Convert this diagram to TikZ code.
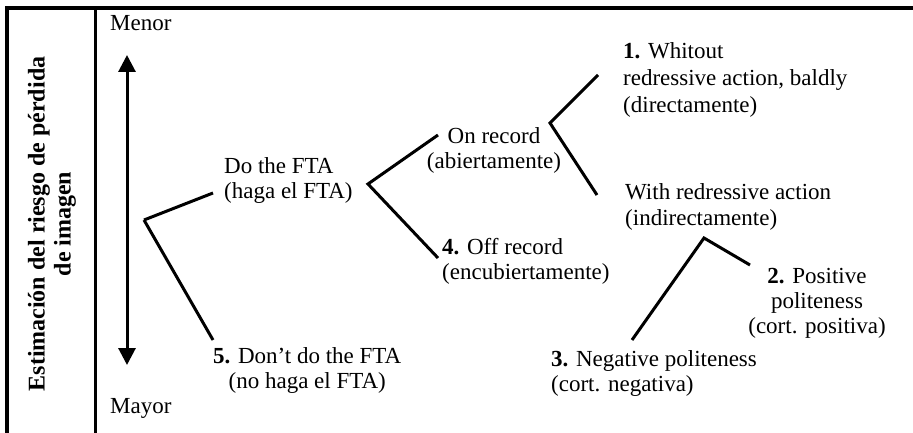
\documentclass[tikz,border=0pt]{standalone}
\usepackage{fontspec}
\setmainfont{Liberation Serif}
\usetikzlibrary{arrows.meta}

\begin{document}
\begin{tikzpicture}[x=1pt,y=-1pt,
    txt/.style={font=\fontsize{23}{25}\selectfont, inner sep=0pt},
    branch/.style={line width=3pt},
    frame/.style={line width=4.5pt}]
  % Define the drawing area
  \useasboundingbox (0,0) rectangle (913,433);

  % Frame and divider
  \draw[frame] (7,433) -- (7,8) -- (913,8);
  \draw[line width=3pt] (95,8) -- (95,433);

  % Side label
  \node[txt, font=\fontsize{24}{26}\selectfont\bfseries, rotate=90, align=center]
    (axis) at (52,224) {Estimación del riesgo de pérdida\\de imagen};

  % Scale
  \node[txt, anchor=base west] (menor) at (110,31) {Menor};
  \node[txt, anchor=base west] (mayor) at (110,413) {Mayor};
  \coordinate (top) at (127,55);
  \coordinate (bottom) at (127,365);
  \draw[branch, {Triangle[width=17pt,length=17pt]}-{Triangle[width=17pt,length=17pt]}]
    (top) -- (bottom);

  % Labels of the tree (base = last line)
  \node[txt, anchor=base west, align=left] (do) at (224,198) {Do the FTA\\(haga el FTA)};
  \node[txt, anchor=base west, align=center] (dont) at (213,388) {\textbf{5.} Don't do the FTA\\(no haga el FTA)};
  \node[txt, anchor=base, align=center] (onrec) at (494,168) {On record\\(abiertamente)};
  \node[txt, anchor=base west, align=left] (offrec) at (442,279) {\textbf{4.} Off record\\(encubiertamente)};
  \node[txt, anchor=base west, align=left] (bald) at (623,113) {\textbf{1.} Whitout\\[2pt]redressive action, baldly\\[2pt](directamente)};
  \node[txt, anchor=base west, align=left] (redress) at (625,225) {With redressive action\\(indirectamente)};
  \node[txt, anchor=base, align=center] (pos) at (817,333) {\textbf{2.} Positive\\politeness\\(cort. positiva)};
  \node[txt, anchor=base west, align=left] (neg) at (551,391) {\textbf{3.} Negative politeness\\(cort. negativa)};

  % Junctions and branch ends
  \coordinate (root) at (144,220);
  \coordinate (do-end) at (213,193);
  \coordinate (dont-end) at (213,340);
  \coordinate (j1) at (368,184);
  \coordinate (onrec-end) at (438,135);
  \coordinate (offrec-end) at (438,258);
  \coordinate (j2) at (550,123);
  \coordinate (bald-end) at (598,75);
  \coordinate (redress-end) at (597,195);
  \coordinate (j3) at (704,238);
  \coordinate (neg-end) at (632,340);
  \coordinate (pos-end) at (750,265);

  % Branches
  \draw[branch] (root) -- (do-end);
  \draw[branch] (root) -- (dont-end);
  \draw[branch] (onrec-end) -- (j1) -- (offrec-end);
  \draw[branch] (bald-end) -- (j2) -- (redress-end);
  \draw[branch] (neg-end) -- (j3) -- (pos-end);
\end{tikzpicture}
\end{document}
